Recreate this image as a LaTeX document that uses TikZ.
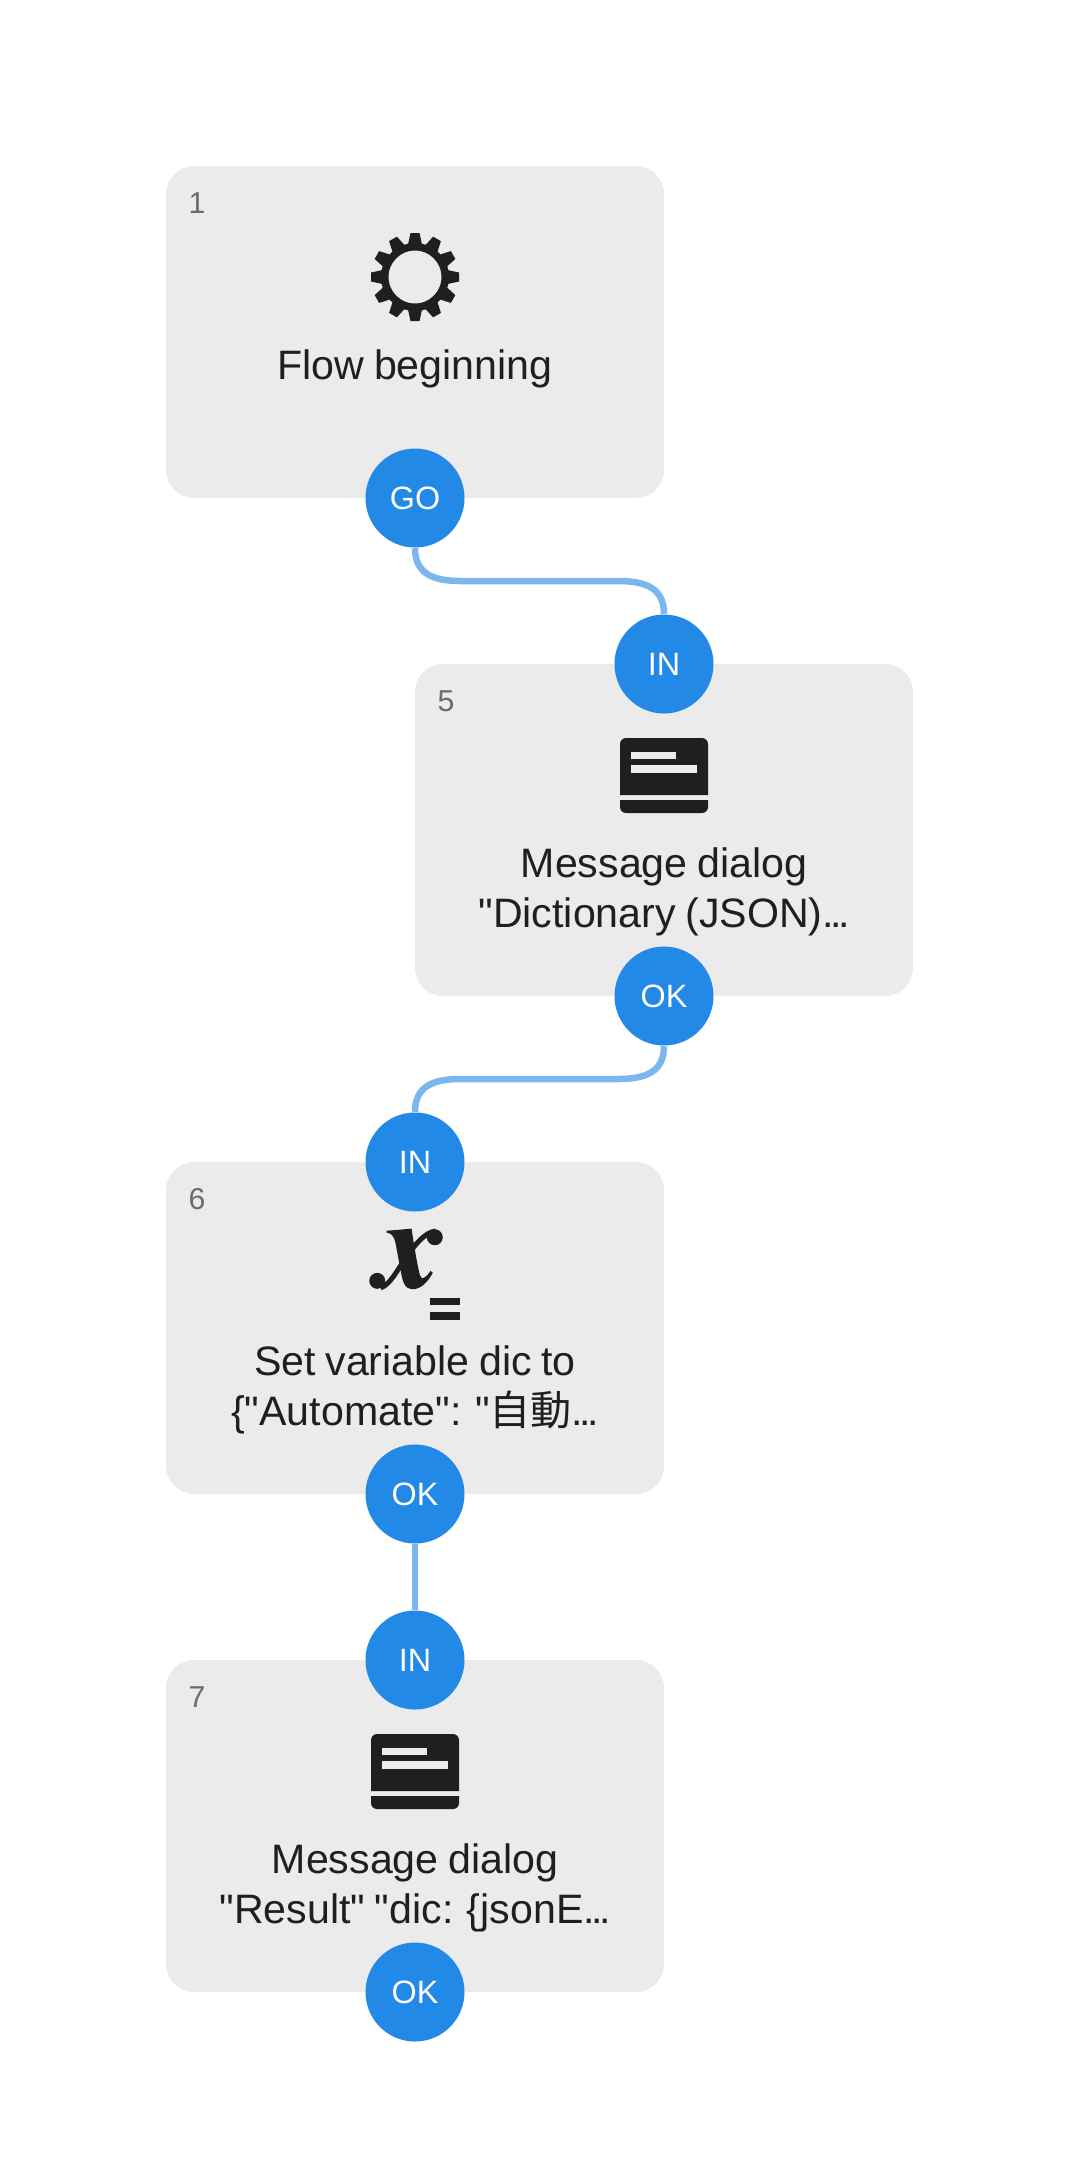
\documentclass[tikz,border=0pt]{standalone}
\usepackage{fontspec}
\newfontfamily\uifont[WordSpace=0.85]{Liberation Sans}
\newfontfamily\cjk{Noto Sans CJK JP}
\newcommand{\trunc}{.\kern-0.09em.\kern-0.09em.}
\usetikzlibrary{backgrounds}

\definecolor{cardgrey}{HTML}{EBEBEB}
\definecolor{portblue}{HTML}{2389E6}
\definecolor{wireblue}{HTML}{7CB6EF}
\definecolor{inkblack}{HTML}{201E21}
\definecolor{numgrey}{HTML}{6B6B6B}

\tikzset{
    card/.style={fill=cardgrey, rounded corners=0.28cm, minimum width=4.98cm, minimum height=3.32cm, inner sep=0pt},
    port/.style={circle, fill=portblue, text=white, minimum size=0.99cm, inner sep=0pt, font=\uifont\fontsize{9.2}{11}\selectfont},
    wire/.style={draw=wireblue, line width=0.065cm},
    stepno/.style={anchor=base west, inner sep=0pt, text=numgrey, font=\uifont\fontsize{8.6}{10}\selectfont},
    caption/.style={anchor=base, inner sep=0pt, align=center, text=inkblack, font=\uifont\fontsize{11.7}{14.2}\selectfont},
    dialogicon/.pic={
        \fill[inkblack] (-0.44,0) -- (0.44,0) -- (0.44,0.51) arc (0:90:0.06) -- (-0.38,0.57) arc (90:180:0.06) -- cycle;
        \fill[inkblack] (-0.44,-0.05) -- (0.44,-0.05) -- (0.44,-0.12) arc (0:-90:0.06) -- (-0.38,-0.18) arc (-90:-180:0.06) -- cycle;
        \fill[cardgrey] (-0.33,0.36) rectangle (0.12,0.43);
        \fill[cardgrey] (-0.33,0.22) rectangle (0.33,0.30);
    }
}

\begin{document}
\begin{tikzpicture}
    \useasboundingbox (0,0) rectangle (10.79,-21.58);

    \node[card] (card1) at (4.15,-3.32) {};
    \node[card] (card5) at (6.64,-8.30) {};
    \node[card] (card6) at (4.15,-13.28) {};
    \node[card] (card7) at (4.15,-18.26) {};

    \node[stepno] (num1) at (1.88,-2.13) {1};
    \node[stepno] (num5) at (4.37,-7.11) {5};
    \node[stepno] (num6) at (1.88,-12.09) {6};
    \node[stepno] (num7) at (1.88,-17.07) {7};

    % gear
    \draw[inkblack, line width=0.075cm] (4.15,-2.77) circle (0.3025);
    \foreach \a in {0,30,...,330}
        \fill[inkblack, shift={(4.15,-2.77)}, rotate=\a] (0.325,-0.07) -- (0.44,-0.045) -- (0.44,0.045) -- (0.325,0.07) -- cycle;

    \pic at (6.64,-7.95) {dialogicon};
    \pic at (4.15,-17.91) {dialogicon};

    % variable icon
    \begin{scope}[shift={(3.40,-12.00)}, x=0.003333cm, y=-0.003333cm]
        \fill[inkblack] (140,92) .. controls (165,91) and (190,88) .. (215,86) .. controls (222,130) and (230,185) .. (240,225) .. controls (245,243) and (258,235) .. (272,213) -- (279,219) .. controls (262,250) and (240,270) .. (215,268) .. controls (195,267) and (188,245) .. (183,215) -- (167,130) .. controls (162,108) and (155,100) .. (140,98) -- cycle;
        \draw[inkblack, line width=0.05cm] (122,264) .. controls (150,255) and (170,215) .. (200,170) .. controls (225,135) and (255,97) .. (288,93);
        \fill[inkblack] (285,112) circle (24);
        \fill[inkblack] (112,243) circle (24);
    \end{scope}
    \fill[inkblack] (4.30,-12.98) rectangle (4.60,-13.05);
    \fill[inkblack] (4.30,-13.12) rectangle (4.60,-13.20);

    \node[caption] (text1) at (4.15,-3.79) {Flow beginning};
    \node[caption] (text5) at (6.64,-9.27) {Message dialog\\"Dictionary (JSON)\trunc};
    \node[caption] (text6) at (4.15,-14.25) {Set variable dic to\\\{"Automate": "{\cjk 自動}\trunc};
    \node[caption] (text7) at (4.15,-19.23) {Message dialog\\"Result" "dic: \{jsonE\trunc};

    \node[port] (go1) at (4.15,-4.98) {GO};
    \node[port] (in5) at (6.64,-6.64) {IN};
    \node[port] (ok5) at (6.64,-9.96) {OK};
    \node[port] (in6) at (4.15,-11.62) {IN};
    \node[port] (ok6) at (4.15,-14.94) {OK};
    \node[port] (in7) at (4.15,-16.60) {IN};
    \node[port] (ok7) at (4.15,-19.92) {OK};

    \coordinate (wirea5) at (4.61,-5.81);
    \coordinate (wireb5) at (6.18,-5.81);
    \coordinate (wirea6) at (6.18,-10.79);
    \coordinate (wireb6) at (4.61,-10.79);
    \begin{scope}[on background layer]
        \draw[wire] (go1.south) to[out=-90, in=180, looseness=1.2] (wirea5) -- (wireb5) to[out=0, in=90, looseness=1.2] (in5.north);
        \draw[wire] (ok5.south) to[out=-90, in=0, looseness=1.2] (wirea6) -- (wireb6) to[out=180, in=90, looseness=1.2] (in6.north);
        \draw[wire] (ok6.south) -- (in7.north);
    \end{scope}
\end{tikzpicture}
\end{document}
